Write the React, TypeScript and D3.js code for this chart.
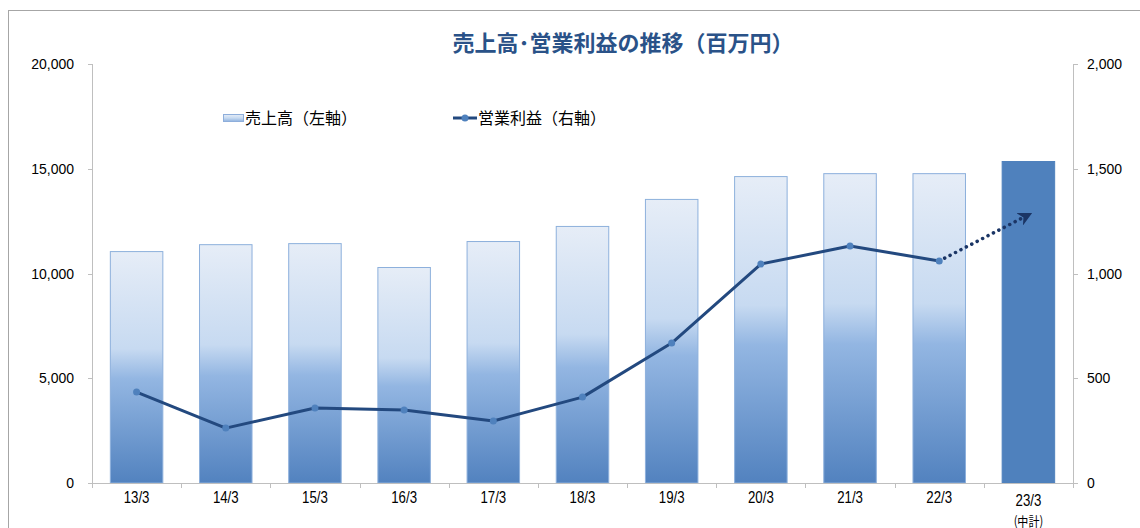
import React from "react"
import * as d3 from "d3"

// data
const categories = ["13/3", "14/3", "15/3", "16/3", "17/3", "18/3", "19/3", "20/3", "21/3", "22/3", "23/3"]
const sales = [11070, 11400, 11450, 10310, 11550, 12270, 13560, 14650, 14790, 14790, 15370]
const profitCats = ["13/3", "14/3", "15/3", "16/3", "17/3", "18/3", "19/3", "20/3", "21/3", "22/3"]
const profit = [434, 262, 358, 348, 296, 410, 668, 1045, 1131, 1060]
const profitPlanCat = "23/3"
const profitPlan = 1280
const leftTicks = [0, 5000, 10000, 15000, 20000]
const rightTicks = [0, 500, 1000, 1500, 2000]

const W = 1140
const H = 528
const margin = { top: 64, right: 67, bottom: 45, left: 92 }

const JP = "'Noto Sans CJK JP', 'Noto Sans', sans-serif"
const NUM = "'Liberation Sans', Arial, sans-serif"

export default function App() {
  const x0 = margin.left
  const x1 = W - margin.right
  const y0 = H - margin.bottom
  const y1 = margin.top

  const x = d3.scaleBand<string>().domain(categories).range([x0, x1]).paddingInner(0.4).paddingOuter(0.2)
  const yL = d3.scaleLinear().domain([0, 20000]).range([y0, y1])
  const yR = d3.scaleLinear().domain([0, 2000]).range([y0, y1])
  const cx = (c: string) => (x(c) ?? 0) + x.bandwidth() / 2

  const line = d3
    .line<number>()
    .x((_, i) => cx(profitCats[i]))
    .y((d) => yR(d))

  const lastCat = profitCats[profitCats.length - 1]
  const lastVal = profit[profit.length - 1]
  const fmt = d3.format(",")
  const step = x.step()
  const bandEdges = d3.range(categories.length + 1).map((i) => x0 + i * step)

  return (
    <svg width={W} height={H} style={{ position: "absolute", left: 0, top: 0 }}>
      <defs>
        <linearGradient id="barGrad" x1="0" y1="0" x2="0" y2="1">
          <stop offset="0%" stopColor="#E6EDF7" />
          <stop offset="42%" stopColor="#C7DAF1" />
          <stop offset="55%" stopColor="#93B6E2" />
          <stop offset="100%" stopColor="#5282BF" />
        </linearGradient>
        <linearGradient id="legGrad" x1="0" y1="0" x2="0" y2="1">
          <stop offset="0%" stopColor="#E6EDF7" />
          <stop offset="50%" stopColor="#C7DAF1" />
          <stop offset="100%" stopColor="#8FB2DF" />
        </linearGradient>
        <marker id="arrow" viewBox="0 0 10 10" refX="7" refY="5" markerWidth="4" markerHeight="4" orient="auto">
          <path d="M0,0 L10,5 L0,10 L3,5 Z" fill="#1B3565" />
        </marker>
      </defs>

      <rect x={8.5} y={10.5} width={1300} height={700} fill="#fff" stroke="#A6A6A6" />

      <text x={623} y={51} textAnchor="middle" fontFamily={JP} fontSize={22} fontWeight="bold" fill="#2A5288">
        売上高･営業利益の推移（百万円）
      </text>

      {/* legend */}
      <rect x={223.5} y={114.5} width={20} height={7} fill="url(#legGrad)" stroke="#8EAEDB" />
      <text x={245} y={124} fontFamily={JP} fontSize={16} fill="#000">
        売上高（左軸）
      </text>
      <line x1={453} x2={477} y1={118} y2={118} stroke="#23497F" strokeWidth={3} />
      <circle cx={465} cy={118} r={3.5} fill="#4F81BD" />
      <text x={478} y={124} fontFamily={JP} fontSize={16} fill="#000">
        営業利益（右軸）
      </text>

      {/* bars */}
      {categories.map((c, i) => (
        <rect
          key={c}
          x={(x(c) ?? 0) + 0.5}
          y={yL(sales[i]) + 0.5}
          width={x.bandwidth() - 1}
          height={y0 - yL(sales[i]) - 0.5}
          fill={c === profitPlanCat ? "#4F81BD" : "url(#barGrad)"}
          stroke={c === profitPlanCat ? "#4F81BD" : "#8DB0DC"}
          strokeWidth={1}
        />
      ))}

      {/* axes */}
      <line x1={x0 + 0.5} x2={x0 + 0.5} y1={y1} y2={y0} stroke="#BFBFBF" />
      <line x1={x1 + 0.5} x2={x1 + 0.5} y1={y1} y2={y0} stroke="#BFBFBF" />
      <line x1={x0} x2={x1 + 1} y1={y0 + 0.5} y2={y0 + 0.5} stroke="#BFBFBF" />
      {leftTicks.map((t) => (
        <g key={"l" + t}>
          <line x1={x0 - 4} x2={x0} y1={Math.round(yL(t)) + 0.5} y2={Math.round(yL(t)) + 0.5} stroke="#BFBFBF" />
          <text x={74} y={yL(t) + 5} textAnchor="end" fontFamily={NUM} fontSize={14} fill="#000">
            {fmt(t)}
          </text>
        </g>
      ))}
      {rightTicks.map((t) => (
        <g key={"r" + t}>
          <line x1={x1} x2={x1 + 5} y1={Math.round(yR(t)) + 0.5} y2={Math.round(yR(t)) + 0.5} stroke="#BFBFBF" />
          <text x={1087} y={yR(t) + 5} textAnchor="start" fontFamily={NUM} fontSize={14} fill="#000">
            {fmt(t)}
          </text>
        </g>
      ))}
      {bandEdges.map((e, i) => (
        <line key={"b" + i} x1={Math.round(e) + 0.5} x2={Math.round(e) + 0.5} y1={y0} y2={y0 + 5} stroke="#BFBFBF" />
      ))}
      {categories.map((c) => (
        <text
          key={"x" + c}
          transform={`translate(${cx(c)},${c === profitPlanCat ? 506 : 503}) scale(0.78,1)`}
          textAnchor="middle"
          fontFamily={NUM}
          fontSize={17}
          fill="#000"
        >
          {c}
        </text>
      ))}
      <text
        transform={`translate(${cx(profitPlanCat)},526) scale(0.85,1)`}
        textAnchor="middle"
        fontFamily={JP}
        fontSize={13}
        fill="#000"
      >
        (中計)
      </text>

      {/* operating profit */}
      <path d={line(profit) ?? ""} fill="none" stroke="#23497F" strokeWidth={3} strokeLinejoin="round" />
      <line
        x1={cx(lastCat)}
        y1={yR(lastVal)}
        x2={cx(profitPlanCat)}
        y2={yR(profitPlan)}
        stroke="#1B3565"
        strokeWidth={3.5}
        strokeDasharray="0.1 6"
        strokeLinecap="round"
        markerEnd="url(#arrow)"
      />
      {profit.map((v, i) => (
        <circle key={"p" + i} cx={cx(profitCats[i])} cy={yR(v)} r={3.5} fill="#4F81BD" />
      ))}
    </svg>
  )
}
